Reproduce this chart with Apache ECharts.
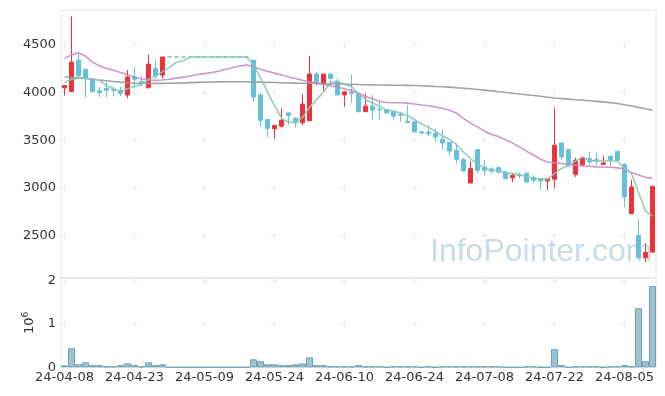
<!DOCTYPE html>
<html><head><meta charset="utf-8">
<script src="https://cdn.jsdelivr.net/npm/echarts@6/dist/echarts.min.js"></script>
<style>html,body{margin:0;padding:0;background:#fff}#c{width:665px;height:396px}</style>
</head><body><div id="c"></div>
<script>
const dates = ['24-04-08','24-04-09','24-04-11','24-04-12','24-04-15','24-04-16','24-04-17','24-04-18','24-04-19','24-04-22',
'24-04-23','24-04-24','24-04-25','24-04-26','24-04-29','24-04-30','24-05-02','24-05-03','24-05-07','24-05-08',
'24-05-09','24-05-10','24-05-13','24-05-14','24-05-16','24-05-17','24-05-20','24-05-21','24-05-22','24-05-23',
'24-05-24','24-05-27','24-05-28','24-05-29','24-05-30','24-05-31','24-06-03','24-06-04','24-06-05','24-06-07',
'24-06-10','24-06-11','24-06-12','24-06-13','24-06-14','24-06-17','24-06-18','24-06-19','24-06-20','24-06-21',
'24-06-24','24-06-25','24-06-26','24-06-27','24-06-28','24-07-01','24-07-02','24-07-03','24-07-04','24-07-05',
'24-07-08','24-07-09','24-07-10','24-07-11','24-07-12','24-07-15','24-07-16','24-07-17','24-07-18','24-07-19',
'24-07-22','24-07-23','24-07-24','24-07-25','24-07-26','24-07-29','24-07-30','24-07-31','24-08-01','24-08-02',
'24-08-05','24-08-06','24-08-07','24-08-08','24-08-09'];

const opens = [4050,4010,4340,4245,4140,4020,4045,4030,4025,3975,
4165,4115,4050,4255,4185,4375,4375,4375,4375,4375,
4375,4375,4375,4375,4375,4375,4375,4340,3975,3718,
3620,3648,3787,3730,3685,3705,4195,4097,4195,4115,
3977,4005,3990,3800,3858,3825,3822,3798,3770,3700,
3693,3590,3587,3570,3511,3476,3395,3297,3051,3402,
3219,3198,3212,3166,3105,3135,3150,3107,3096,3072,
3090,3472,3402,3142,3244,3307,3297,3247,3332,3384,
3247,2728,2500,2265,2324];
const closes = [4075,4320,4175,4150,4010,4000,4025,4020,3992,4165,
4140,4100,4300,4175,4375,4375,4375,4375,4375,4375,
4375,4375,4375,4375,4375,4375,4375,3955,3710,3625,
3655,3710,3760,3683,3880,4195,4097,4195,4150,3975,
4008,3990,3800,3858,3816,3818,3787,3753,3762,3687,
3587,3577,3570,3535,3472,3387,3300,3177,3202,3184,
3184,3175,3166,3096,3132,3125,3060,3080,3072,3096,
3447,3324,3237,3289,3318,3272,3280,3261,3290,3290,
2903,3009,2265,2321,3016];
const lows = [3970,4005,4170,3950,4005,3950,3950,3960,3965,3940,
4045,4070,4050,4150,4150,4375,4375,4375,4375,4375,
4375,4375,4375,4375,4375,4375,4375,3900,3645,3530,
3515,3635,3660,3635,3660,3703,4070,4010,4080,3975,
3850,3893,3798,3798,3718,3720,3780,3718,3693,3687,
3580,3565,3542,3482,3402,3342,3255,3170,3051,3149,
3132,3150,3145,3096,3060,3100,3050,3051,2980,2975,
3000,3290,3220,3114,3220,3237,3245,3247,3230,3290,
2798,2728,2260,2220,2324];
const highs = [4080,4800,4410,4250,4140,4060,4110,4060,4060,4237,
4270,4180,4400,4340,4375,4375,4375,4375,4375,4375,
4375,4375,4375,4375,4375,4375,4375,4340,4000,3718,
3660,3833,3800,3745,3985,4387,4220,4195,4195,4150,
4008,4185,3995,3990,3975,3905,3822,3798,3798,3868,
3693,3600,3658,3623,3613,3476,3465,3315,3282,3402,
3289,3220,3230,3180,3150,3160,3170,3132,3100,3100,
3844,3472,3402,3314,3330,3377,3370,3332,3340,3384,
3260,3086,2676,2420,3016];
const volumes = [45000,440000,70000,115000,50000,50000,20000,20000,50000,90000,
50000,20000,115000,50000,70000,0,0,0,0,0,
0,0,0,0,0,0,0,185000,140000,70000,
70000,50000,50000,70000,90000,230000,50000,50000,20000,20000,
20000,20000,50000,20000,20000,20000,0,20000,20000,20000,
20000,0,20000,0,20000,20000,20000,20000,20000,20000,
20000,20000,20000,0,0,0,20000,20000,0,0,
420000,50000,0,20000,20000,20000,20000,0,20000,20000,
50000,20000,1370000,140000,1880000];
const ma5 = [4105,4140,4150,4150,4146,4131,4072,4041,4009,4040,
4068,4083,4139,4176,4218,4265,4320,4335,4375,4375,
4375,4375,4375,4375,4375,4375,4375,4291,4158,4008,
3864,3731,3692,3687,3738,3846,3923,4010,4103,4122,
4085,4064,3985,3926,3894,3856,3816,3806,3787,3761,
3715,3673,3637,3591,3548,3508,3453,3374,3308,3250,
3209,3184,3182,3161,3151,3139,3116,3099,3094,3087,
3151,3204,3235,3279,3323,3288,3279,3284,3284,3279,
3205,3151,2951,2758,2703];
const ma20 = [4360,4395,4420,4385,4320,4280,4255,4235,4212,4188,
4165,4143,4133,4130,4133,4140,4152,4163,4175,4190,
4200,4210,4225,4245,4262,4280,4290,4275,4245,4225,
4205,4185,4165,4148,4130,4115,4100,4085,4072,4057,
4040,4020,3995,3960,3935,3910,3897,3893,3893,3890,
3880,3870,3862,3850,3835,3815,3785,3730,3680,3640,
3595,3560,3540,3505,3470,3430,3385,3345,3300,3272,
3262,3255,3246,3238,3230,3225,3220,3218,3216,3210,
3200,3160,3135,3110,3100];
const ma60 = [4166,4160,4155,4148,4140,4132,4125,4117,4110,4104,
4100,4098,4097,4097,4097,4098,4100,4102,4105,4108,
4110,4112,4113,4114,4115,4115,4115,4113,4110,4108,
4106,4104,4102,4100,4099,4098,4097,4095,4093,4091,
4089,4087,4085,4083,4081,4080,4079,4078,4077,4076,
4075,4072,4068,4064,4061,4058,4052,4046,4040,4033,
4026,4018,4010,4002,3994,3986,3978,3970,3962,3952,
3944,3938,3932,3926,3920,3914,3908,3903,3895,3885,
3872,3860,3845,3830,3816];
const priceTicks = [2500,3000,3500,4000,4500];
const volumeTicks = [1000000,2000000];
const labelStep = 10;

const candleData = dates.map((d,i)=>[opens[i],closes[i],lows[i],highs[i]]);
const tickCats = dates.filter((d,i)=>i%labelStep===0);
const crossTop = [], crossVol = [];
tickCats.forEach(c=>{ priceTicks.forEach(v=>crossTop.push([c,v])); volumeTicks.forEach(v=>crossVol.push([c,v])); });
const plus = 'path://M2.5,0h1v6h-1z M0,2.5h6v1h-6z';
const FONT = 'DejaVu Sans';

const chart = echarts.init(document.getElementById('c'), null, {renderer:'canvas'});
chart.setOption({
  animation:false,
  backgroundColor:'#fff',
  textStyle:{fontFamily:FONT},
  graphic:[{type:'text', left:430, top:236, z:0, silent:true,
    style:{text:'InfoPointer.com', font:'32px "Liberation Sans", Arial, sans-serif', fill:'#c9dbe6'}}],
  grid:[
    {left:61, width:595, top:10, height:267.5, show:true, borderColor:'#e6e6e6', borderWidth:1, backgroundColor:'transparent'},
    {left:61, width:595, top:278.3, height:89, show:true, borderColor:'#e6e6e6', borderWidth:1, backgroundColor:'transparent'}
  ],
  xAxis:[
    {type:'category', gridIndex:0, data:dates, boundaryGap:true, axisLine:{show:false}, axisTick:{show:false}, axisLabel:{show:false}, splitLine:{show:false}},
    {type:'category', gridIndex:1, data:dates, boundaryGap:true, axisLine:{show:false}, axisTick:{show:false}, splitLine:{show:false},
      axisLabel:{interval:labelStep-1, fontSize:13, color:'#333', margin:4, fontFamily:FONT}}
  ],
  yAxis:[
    {type:'value', gridIndex:0, min:2058, max:4868, scale:true, axisLine:{show:false}, axisTick:{show:false}, splitLine:{show:false},
      axisLabel:{fontSize:13, color:'#333', margin:5, fontFamily:FONT, formatter:v=>priceTicks.includes(v)?String(v):''}},
    {type:'value', gridIndex:1, min:0, max:2060000, interval:1000000, axisLine:{show:false}, axisTick:{show:false}, splitLine:{show:false},
      axisLabel:{fontSize:13, color:'#333', margin:5, fontFamily:FONT, formatter:v=>(v%1000000===0)?String(v/1000000):''},
      name:'{a|10}{b|6}', nameLocation:'middle', nameRotate:90, nameGap:22,
      nameTextStyle:{color:'#333', fontFamily:FONT, rich:{a:{fontSize:13, color:'#333', fontFamily:FONT, lineHeight:18}, b:{fontSize:9, color:'#333', fontFamily:FONT, verticalAlign:'top'}}}}
  ],
  series:[
    {type:'scatter', xAxisIndex:0, yAxisIndex:0, data:crossTop, symbol:plus, symbolSize:6, itemStyle:{color:'#e2e2e2'}, silent:true, z:1},
    {type:'scatter', xAxisIndex:1, yAxisIndex:1, data:crossVol, symbol:plus, symbolSize:6, itemStyle:{color:'#e2e2e2'}, silent:true, z:1},
    {type:'candlestick', xAxisIndex:0, yAxisIndex:0, data:candleData, barWidth:5, z:3,
      itemStyle:{color:'#ee3338', color0:'#66bfd9', borderColor:'#ee3338', borderColor0:'#66bfd9', borderColorDoji:'#7ec4b6', borderWidth:1}},
    {type:'line', xAxisIndex:0, yAxisIndex:0, data:ma60, showSymbol:false, symbol:'none', z:4, lineStyle:{color:'#999999', width:1.6, opacity:0.9}},
    {type:'line', xAxisIndex:0, yAxisIndex:0, data:ma20, showSymbol:false, symbol:'none', z:4, lineStyle:{color:'#c883c0', width:1.6, opacity:0.85}},
    {type:'line', xAxisIndex:0, yAxisIndex:0, data:ma5, showSymbol:false, symbol:'none', z:4, lineStyle:{color:'#85c8b5', width:1.6, opacity:0.9}},
    {type:'bar', xAxisIndex:1, yAxisIndex:1, data:volumes, barWidth:'100%', barCategoryGap:'0%', z:3,
      itemStyle:{color:'#9dc3d3', borderColor:'#6d9fb5', borderWidth:1}}
  ]
});
</script></body></html>
